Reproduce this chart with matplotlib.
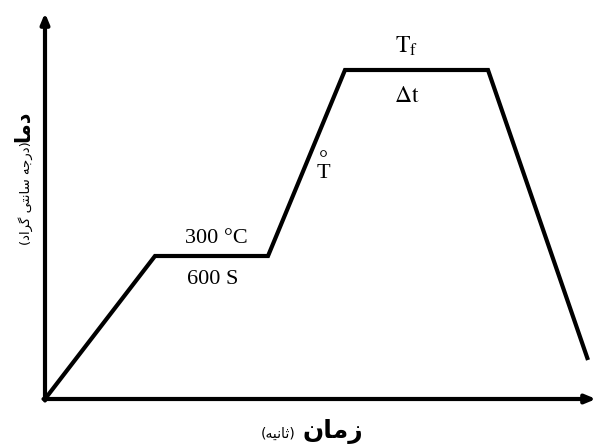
import matplotlib
matplotlib.use('Agg')
import matplotlib.pyplot as plt

plt.rcParams['mathtext.fontset'] = 'stix'

# heat treatment profile (arbitrary units, origin at 0,0)
time = [0, 110, 223, 300, 443, 543]
temp = [0, 143, 143, 329, 329, 39]

# persian labels, pre-shaped (presentation forms, visual order)
y_main = '\uFE8E\uFEE3\uFEA9'
y_sub = '(\uFEA9\uFE8D\uFEAE\uFB94 \uFEF0\uFE98\uFEE7\uFE8E\uFEB3 \uFEEA\uFE9F\uFEAD\uFEA9)'
x_main = '\uFEE5\uFE8E\uFEE3\uFEAF'
x_sub = '(\uFEEA\uFEF4\uFEE7\uFE8E\uFE9B)'

fig = plt.figure(figsize=(5.97, 4.48), dpi=100)
ax = fig.add_axes([45 / 597, 49 / 448, 551 / 597, 386 / 448])
ax.set_xlim(0, 551)
ax.set_ylim(0, 386)
ax.axis('off')

# axes with arrows
arr = dict(arrowstyle='-|>,head_length=0.6,head_width=0.25', lw=3, color='black',
           shrinkA=0, shrinkB=0)
ax.annotate('', xy=(551, 0), xytext=(-1.5, 0), arrowprops=arr)
ax.annotate('', xy=(0, 386), xytext=(0, -1.5), arrowprops=arr)

ax.plot(time, temp, color='black', lw=3, solid_joinstyle='miter', solid_capstyle='butt')

serif = 'Liberation Serif'
ax.text(171, 161, '300 \u00b0C', ha='center', va='center', fontsize=16, family=serif)
ax.text(168, 119, '600 S', ha='center', va='center', fontsize=16, family=serif)
ax.text(362, 353, r'$\mathrm{T_f}$', ha='center', va='center', fontsize=17)
ax.text(362, 304, r'$\Delta\mathrm{t}$', ha='center', va='center', fontsize=17)
ax.text(278, 232, '\u00b0\nT', ha='center', va='center', multialignment='center',
        linespacing=0.55, fontsize=16, family=serif)

# labels
fig.text(33 / 597, 1 - 110 / 448, y_main, rotation=90, ha='right', va='top',
         fontsize=15, fontweight='bold', family='DejaVu Sans')
fig.text(33 / 597, 1 - 141 / 448, y_sub, rotation=90, ha='right', va='top',
         fontsize=9.5, family='DejaVu Sans')
fig.text(363 / 597, 1 - 438 / 448, x_main, ha='right', va='baseline',
         fontsize=18, fontweight='bold', family='DejaVu Sans')
fig.text(295 / 597, 1 - 438 / 448, x_sub, ha='right', va='baseline',
         fontsize=10, family='DejaVu Sans')

fig.savefig('out.png', dpi=100)
